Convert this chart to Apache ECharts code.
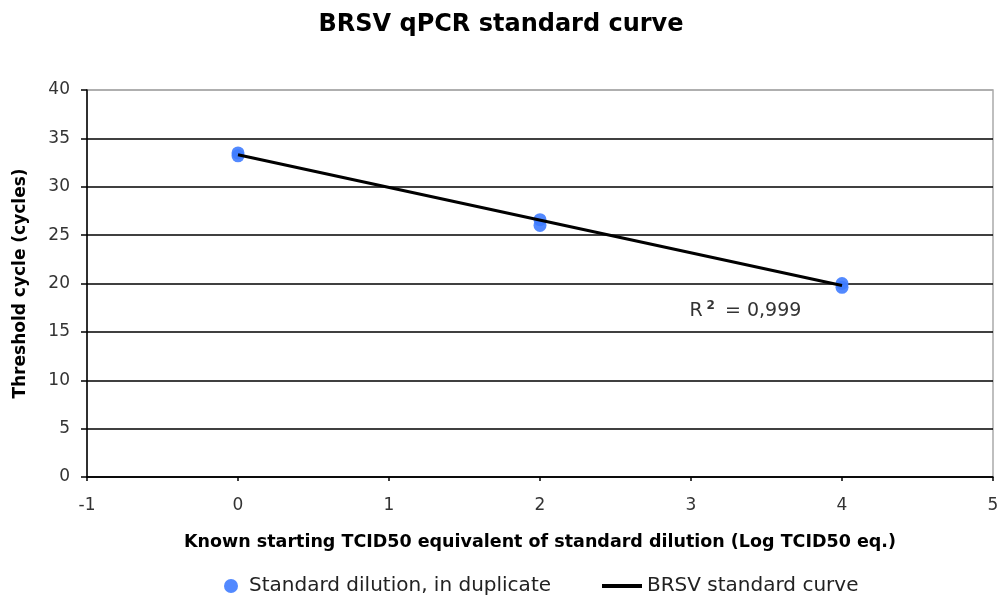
<!DOCTYPE html>
<html><head><meta charset="utf-8">
<script src="https://cdn.jsdelivr.net/npm/echarts@6/dist/echarts.min.js"></script>
<style>html,body{margin:0;padding:0;background:#fff}#c{width:1002px;height:604px}</style>
</head><body><div id="c"></div>
<script>
const dilutionX = [0, 0, 2, 2, 4, 4];
const thresholdCycles = [33.5, 33.2, 26.6, 26.0, 20.0, 19.6];
const curveX = [0, 4];
const curveY = [33.3, 19.8];
const r2Pos = [3.36, 17.2];

const chart = echarts.init(document.getElementById('c'));
const font = 'DejaVu Sans, Verdana, sans-serif';
const splitColors = ['#000', '#000', '#000', '#000', '#000', '#000', '#000', '#000', '#aaa'];
chart.setOption({
  animation: false,
  title: { text: 'BRSV qPCR standard curve', left: 'center', top: 8,
    textStyle: { fontFamily: font, fontSize: 24, fontWeight: 'bold', color: '#000' } },
  grid: { left: 87, right: 9, top: 90, bottom: 127, show: true, borderColor: '#aaa', borderWidth: 1.5,
    backgroundColor: 'transparent', outerBoundsMode: 'none', containLabel: false },
  legend: [
    { left: 219, bottom: 3, itemWidth: 14, itemHeight: 14,
      textStyle: { fontFamily: font, fontSize: 20, color: '#222', padding: [0, 0, 0, 6] },
      data: [{ name: 'Standard dilution, in duplicate', icon: 'circle', itemStyle: { color: '#3f7cff' } }] },
    { left: 597, bottom: 3, itemWidth: 40, itemHeight: 4,
      textStyle: { fontFamily: font, fontSize: 20, color: '#222' },
      data: [{ name: 'BRSV standard curve', icon: 'rect', itemStyle: { color: '#000' } }] }
  ],
  xAxis: { type: 'value', min: -1, max: 5, interval: 1,
    name: 'Known starting TCID50 equivalent of standard dilution (Log TCID50 eq.)',
    nameLocation: 'middle', nameGap: 56,
    nameTextStyle: { fontFamily: font, fontSize: 17.5, fontWeight: 'bold', color: '#000' },
    axisLine: { onZero: false, lineStyle: { color: '#000', width: 1.5 } },
    axisTick: { show: true, length: 4, lineStyle: { color: '#000', width: 1.5 } },
    axisLabel: { fontFamily: font, fontSize: 17, color: '#333', margin: 20 },
    splitLine: { show: false } },
  yAxis: { type: 'value', min: 0, max: 40, interval: 5,
    name: 'Threshold cycle (cycles)', nameLocation: 'middle', nameGap: 58,
    nameTextStyle: { fontFamily: font, fontSize: 17, fontWeight: 'bold', color: '#000' },
    axisLine: { show: true, onZero: false, lineStyle: { color: '#000', width: 1.5 } },
    axisTick: { show: true, length: 6, lineStyle: { color: '#000', width: 1.5 } },
    axisLabel: { fontFamily: font, fontSize: 17, color: '#333', margin: 17 },
    splitLine: { show: true, lineStyle: { color: splitColors, width: 1.5 } } },
  series: [
    { name: 'Standard dilution, in duplicate', type: 'scatter', symbol: 'circle', symbolSize: 13,
      itemStyle: { color: '#3f7cff', opacity: 0.9 },
      data: dilutionX.map((x, i) => [x, thresholdCycles[i]]), z: 2 },
    { name: 'BRSV standard curve', type: 'line', symbol: 'none',
      lineStyle: { color: '#000', width: 3 }, itemStyle: { color: '#000' },
      data: curveX.map((x, i) => [x, curveY[i]]), z: 3,
      markPoint: { symbol: 'circle', symbolSize: 0, silent: true,
        data: [{ coord: r2Pos }],
        label: { show: true, position: 'inside',
          formatter: '{a|R}{s|2}{a| = 0,999}',
          rich: { a: { fontFamily: font, fontSize: 19, color: '#333' },
                  s: { fontFamily: font, fontSize: 12, color: '#333', fontWeight: 'bold', verticalAlign: 'top', padding: [0, 4, 10, 4] } } } } }
  ]
});
</script></body></html>
